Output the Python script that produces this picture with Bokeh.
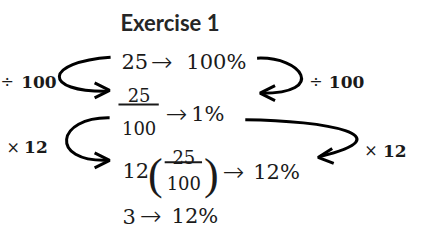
from bokeh.plotting import figure
from bokeh.models import Range1d, Arrow, OpenHead, ColumnDataSource
from bokeh.core.properties import value
from bokeh.embed import file_html
from bokeh.resources import INLINE

# ---- content (texts) ----
title_text = ["Exercise 1"]
main_tokens = ["25", "100%", "1%", "12", "12%", "3", "12%"]
arrow_tokens = ["→", "→", "→", "→"]
frac_num = ["25", "25"]
frac_den = ["100", "100"]
parens = ["(", ")"]
op_symbols = ["÷", "÷", "×", "×"]
op_numbers = ["100", "100", "12", "12"]

# ---- layout (reference pixel coordinates) ----
title_pos = ([130], [30])
main_x = [131, 197, 202, 132, 265, 132, 182]
main_y = [72, 72, 127, 187, 188, 235, 235]
arrow_x = [161, 176, 234, 150]
arrow_y = [72, 127, 188, 235]
frac_cx = [149, 194.5]
frac_num_y = [107, 173]
frac_den_y = [142, 200]
bar_x0 = [128, 175]
bar_x1 = [169, 213]
bar_y = [117, 178]
paren_x = [158, 215]
paren_y = [191, 191]
op_x = [8, 322, 14, 378]
num_x = [29, 342, 32, 397]
op_y = [93, 93, 162, 166]

# curved arrows: start, control 1, control 2, end
curve_x0 = [120, 269, 119, 257]
curve_y0 = [67, 68, 131, 133]
curve_cx0 = [52, 315, 65, 340]
curve_cy0 = [72, 66, 130, 134]
curve_cx1 = [50, 340, 57, 420]
curve_cy1 = [104, 105, 178, 150]
curve_x1 = [117, 274, 117, 333]
curve_y1 = [103, 105, 176, 172]
head_xs = [100, 292, 100, 350]
head_ys = [102, 105, 176, 171]
head_xe = [119, 272, 119, 331]
head_ye = [102, 105, 176, 173]

SERIF = value("DejaVu Serif")
INK = "#1a1a1a"

p = figure(width=407, height=226, x_range=Range1d(8, 422), y_range=Range1d(246, 7),
           output_backend="svg", toolbar_location=None, min_border=0)
p.axis.visible = False
p.grid.visible = False
p.outline_line_color = None
p.background_fill_color = "white"
p.border_fill_color = "white"

p.text(x=title_pos[0], y=title_pos[1], text=title_text, text_font=value("Lato"),
       text_font_style="bold", text_font_size="22px", text_color="#262626",
       text_baseline="alphabetic", text_align="left")

p.text(x=main_x, y=main_y, text=main_tokens, text_font=SERIF, text_font_size="21px",
       text_color=INK, text_baseline="alphabetic", text_align="left")
p.text(x=arrow_x, y=arrow_y, text=arrow_tokens, text_font=value("DejaVu Sans Light"),
       text_font_size="26px", text_color=INK, text_baseline="alphabetic", text_align="left")

p.text(x=frac_cx, y=frac_num_y, text=frac_num, text_font=SERIF, text_font_size="18px",
       text_color=INK, text_baseline="alphabetic", text_align="center")
p.text(x=frac_cx, y=frac_den_y, text=frac_den, text_font=SERIF, text_font_size="18px",
       text_color=INK, text_baseline="alphabetic", text_align="center")
p.segment(x0=bar_x0, y0=bar_y, x1=bar_x1, y1=bar_y, line_color=INK, line_width=2)

p.text(x=paren_x, y=paren_y, text=parens, text_font=value("Liberation Serif"),
       text_font_size="44px", text_color=INK, text_baseline="alphabetic", text_align="left")

p.text(x=op_x, y=op_y, text=op_symbols, text_font=SERIF, text_font_size="16px",
       text_color=INK, text_baseline="alphabetic", text_align="left")
p.text(x=num_x, y=op_y, text=op_numbers, text_font=SERIF,
       text_font_style="bold", text_font_size="17px", text_color=INK,
       text_baseline="alphabetic", text_align="left")

p.bezier(x0=curve_x0, y0=curve_y0, x1=curve_x1, y1=curve_y1,
         cx0=curve_cx0, cy0=curve_cy0, cx1=curve_cx1, cy1=curve_cy1,
         line_color="black", line_width=3)

head_src = ColumnDataSource(dict(xs=head_xs, ys=head_ys, xe=head_xe, ye=head_ye))
p.add_layout(Arrow(x_start="xs", y_start="ys", x_end="xe", y_end="ye", source=head_src,
                   line_alpha=0,
                   end=OpenHead(size=15, line_width=3, line_color="black")))

open("out.html", "w").write(file_html(p, INLINE))
